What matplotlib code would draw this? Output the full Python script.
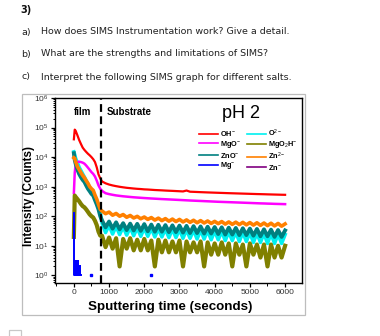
import numpy as np
import matplotlib
matplotlib.use('Agg')
import matplotlib.pyplot as plt
from matplotlib.patches import Rectangle
from matplotlib.ticker import MultipleLocator, LogLocator, NullFormatter

plt.rcParams['font.family'] = ['Liberation Sans', 'DejaVu Sans']
plt.rcParams['mathtext.fontset'] = 'custom'
plt.rcParams['mathtext.rm'] = 'Liberation Sans'
plt.rcParams['mathtext.it'] = 'Liberation Sans:italic'
plt.rcParams['mathtext.bf'] = 'Liberation Sans:bold'

# question text
questions = [
    ('a)', 'How does SIMS Instrumentation work? Give a detail.'),
    ('b)', 'What are the strengths and limitations of SIMS?'),
    ('c)', 'Interpret the following SIMS graph for different salts.'),
]

# sputtering time (s) - film part and substrate part
t_film = [0, 25, 50, 100, 150, 200, 250, 300, 350, 400, 450, 500, 550, 600, 650, 700, 750]
t_sub = list(range(800, 6001, 100))

# counts
oh_film = [40000, 85000, 78000, 55000, 38000, 28000, 21000, 17500, 15000, 13000,
           11500, 10000, 8500, 6800, 4500, 2600, 1900]
oh_sub = [1500, 1300, 1180, 1100, 1040, 990, 950, 915, 890, 865,
          845, 830, 810, 800, 785, 770, 760, 750, 738, 728,
          720, 710, 700, 690, 740, 675, 668, 660, 652, 645,
          638, 632, 626, 620, 614, 608, 602, 597, 592, 587,
          582, 577, 572, 567, 562, 558, 554, 549, 545, 541,
          537, 533, 530]

o2_film = [15000, 12000, 9000, 6500, 4500, 3500, 2700, 2100, 1600, 1200,
           900, 750, 620, 450, 330, 220, 130]
o2_sub = [60, 28, 50, 25, 46, 24, 44, 23, 42, 22,
          41, 21, 40, 21, 39, 20, 38, 20, 37, 19,
          37, 19, 36, 18, 35, 18, 34, 17, 34, 17,
          33, 16, 32, 16, 31, 15, 30, 15, 29, 14,
          29, 14, 28, 13, 27, 13, 27, 12, 26, 12,
          25, 12, 24]

mgo_film = [600, 3000, 5500, 6800, 7000, 6800, 6500, 6000, 5200, 4400,
            3700, 3100, 2700, 2200, 1600, 1100, 850]
mgo_sub = [720, 600, 560, 530, 505, 488, 472, 460, 448, 437,
           428, 420, 412, 405, 398, 392, 386, 380, 375, 370,
           365, 360, 355, 350, 345, 340, 336, 332, 328, 324,
           320, 316, 312, 308, 305, 302, 299, 296, 293, 290,
           287, 284, 281, 278, 275, 272, 270, 267, 265, 262,
           260, 258, 256]

mgo2h_film = [20, 500, 450, 380, 320, 260, 220, 200, 170, 140,
              115, 100, 90, 70, 50, 30, 22]
mgo2h_sub = [22, 9, 19, 8, 18, 2, 17, 8, 18, 7,
             16, 7, 17, 7, 15, 2, 16, 6, 15, 6,
             14, 6, 15, 2, 14, 6, 13, 6, 14, 2,
             13, 5, 12, 5, 13, 5, 12, 2, 12, 5,
             11, 2, 12, 5, 11, 4, 11, 2, 11, 4,
             10, 4, 10]

zno_film = [13500, 8000, 6000, 3800, 2700, 2100, 1700, 1450, 1100, 850,
            700, 570, 500, 350, 250, 170, 100]
zno_sub = [72, 42, 66, 38, 62, 36, 58, 34, 56, 33,
           55, 32, 54, 31, 52, 30, 51, 30, 50, 29,
           49, 29, 48, 28, 47, 27, 46, 27, 45, 26,
           44, 26, 43, 25, 42, 24, 41, 24, 40, 23,
           39, 23, 38, 22, 37, 21, 36, 21, 35, 20,
           34, 20, 33]

zn2_film = [9500, 9000, 7000, 4800, 3800, 3000, 2400, 2000, 1600, 1300,
            1000, 850, 750, 520, 380, 250, 170]
zn2_sub = [150, 122, 138, 108, 124, 100, 114, 92, 106, 87,
           99, 82, 94, 78, 90, 74, 86, 71, 83, 68,
           80, 66, 78, 64, 75, 62, 73, 60, 71, 59,
           69, 57, 67, 56, 66, 54, 64, 53, 63, 52,
           62, 51, 61, 50, 60, 49, 59, 48, 58, 47,
           57, 46, 55]

mg_t = [0, 10, 20, 30, 40, 50, 60, 70, 80, 90, 100, 110, 120, 130, 140, 150, 160, 170, 180, 190]
mg_v = [130, 1, 3, 1, 3, 1, 3, 1, 3, 1, 3, 1, 3, 1, 1, 2, 1, 2, 1, 1]
mg_dot_t = [500, 2200]
mg_dot_v = [1, 1]

zn_t = []
zn_v = []

labels = ['OH$^{-}$', 'O$^{2-}$', 'MgO$^{-}$', 'MgO$_2$H$^{-}$',
          'ZnO$^{-}$', 'Zn$^{2-}$', 'Mg$^{-}$', 'Zn$^{-}$']
colors = ['#ff0000', '#00f0f0', '#ff00ff', '#808000',
          '#008080', '#ff8000', '#0000ff', '#800080']

fig = plt.figure(figsize=(3.8, 3.36), dpi=100)
W, H = 380.0, 336.0

def fx(px):
    return px / W

def fy(py):
    return 1 - py / H

# header
fig.text(fx(20), fy(10), '3)', fontsize=7, fontweight='bold', color='#111111',
         family='DejaVu Sans', va='center')
for i, (tag, q) in enumerate(questions):
    y = [32, 54, 77][i]
    fig.text(fx(21), fy(y), tag, fontsize=6.8, color='#222222', family='DejaVu Sans', va='center')
    fig.text(fx(41), fy(y), q, fontsize=6.8, color='#222222', family='DejaVu Sans', va='center')

# frame around the picture
fig.patches.append(Rectangle((fx(22), fy(315)), fx(305) - fx(22), fy(94) - fy(315),
                             transform=fig.transFigure, fill=False, edgecolor='#bdbdbd', lw=0.9))
fig.patches.append(Rectangle((fx(9), fy(340)), fx(12), fy(330) - fy(340),
                             transform=fig.transFigure, fill=False, edgecolor='#c8c8c8', lw=0.9))

ax = fig.add_axes([fx(54.5), fy(283), fx(302) - fx(54.5), fy(98) - fy(283)])
ax.set_yscale('log')

t_all = t_film + t_sub
series = [
    (oh_film + oh_sub, 0, 1.6), (o2_film + o2_sub, 1, 2.6), (mgo_film + mgo_sub, 2, 1.8),
    (mgo2h_film + mgo2h_sub, 3, 3.0), (zno_film + zno_sub, 4, 2.8), (zn2_film + zn2_sub, 5, 2.6),
]
handles = {}
for vals, k, lw in series:
    h, = ax.plot(t_all, vals, color=colors[k], lw=lw, label=labels[k])
    handles[k] = h
h, = ax.plot(mg_t, mg_v, color=colors[6], lw=1.4, drawstyle='steps-post', label=labels[6])
handles[6] = h
ax.plot(mg_dot_t, mg_dot_v, ls='none', marker='s', ms=1.6, color=colors[6])
h, = ax.plot(zn_t, zn_v, color=colors[7], lw=1.6, label=labels[7])
handles[7] = h

ax.axvline(760, color='black', lw=1.6, ls=(0, (3.5, 2)))

ax.set_xlim(-550, 6480)
ax.set_ylim(0.55, 1e6)
ax.set_xticks(range(0, 6001, 1000))
ax.xaxis.set_minor_locator(MultipleLocator(500))
ax.yaxis.set_major_locator(LogLocator(base=10, numticks=10))
ax.yaxis.set_minor_locator(LogLocator(base=10, subs=np.arange(2, 10), numticks=20))
ax.yaxis.set_minor_formatter(NullFormatter())
ax.tick_params(which='major', direction='out', length=3, width=0.9, labelsize=6,
               labelcolor='#333333', pad=1.5, top=False, right=False)
ax.tick_params(which='minor', direction='out', length=1.8, width=0.7, top=False, right=False)
for sp in ax.spines.values():
    sp.set_linewidth(1.0)

ax.text(255, 0.924, 'film', transform=ax.get_xaxis_transform(), fontsize=7,
        fontweight='bold', ha='center', va='center')
ax.text(937, 0.924, 'Substrate', transform=ax.get_xaxis_transform(), fontsize=7,
        fontweight='bold', ha='left', va='center')
ax.text(0.754, 0.915, 'pH 2', transform=ax.transAxes, fontsize=13,
        ha='center', va='center')

order = [0, 2, 4, 6, 1, 3, 5, 7]
leg = ax.legend([handles[k] for k in order], [labels[k] for k in order], ncol=2,
                loc='upper left', bbox_to_anchor=(0.585, 0.84), frameon=False,
                prop={'size': 5.3, 'weight': 'bold'}, handlelength=2.5,
                handletextpad=0.35, columnspacing=0.8, labelspacing=0.08,
                borderpad=0, borderaxespad=0)
for line in leg.get_lines():
    line.set_linewidth(1.2)

fig.text(fx(29), fy(196), 'Intensity (Counts)', rotation=90, fontsize=8.5,
         fontweight='bold', ha='center', va='center')
fig.text(fx(170), fy(307), 'Sputtering time (seconds)', fontsize=9.6,
         fontweight='bold', ha='center', va='center')

fig.savefig('out.png', dpi=100)
